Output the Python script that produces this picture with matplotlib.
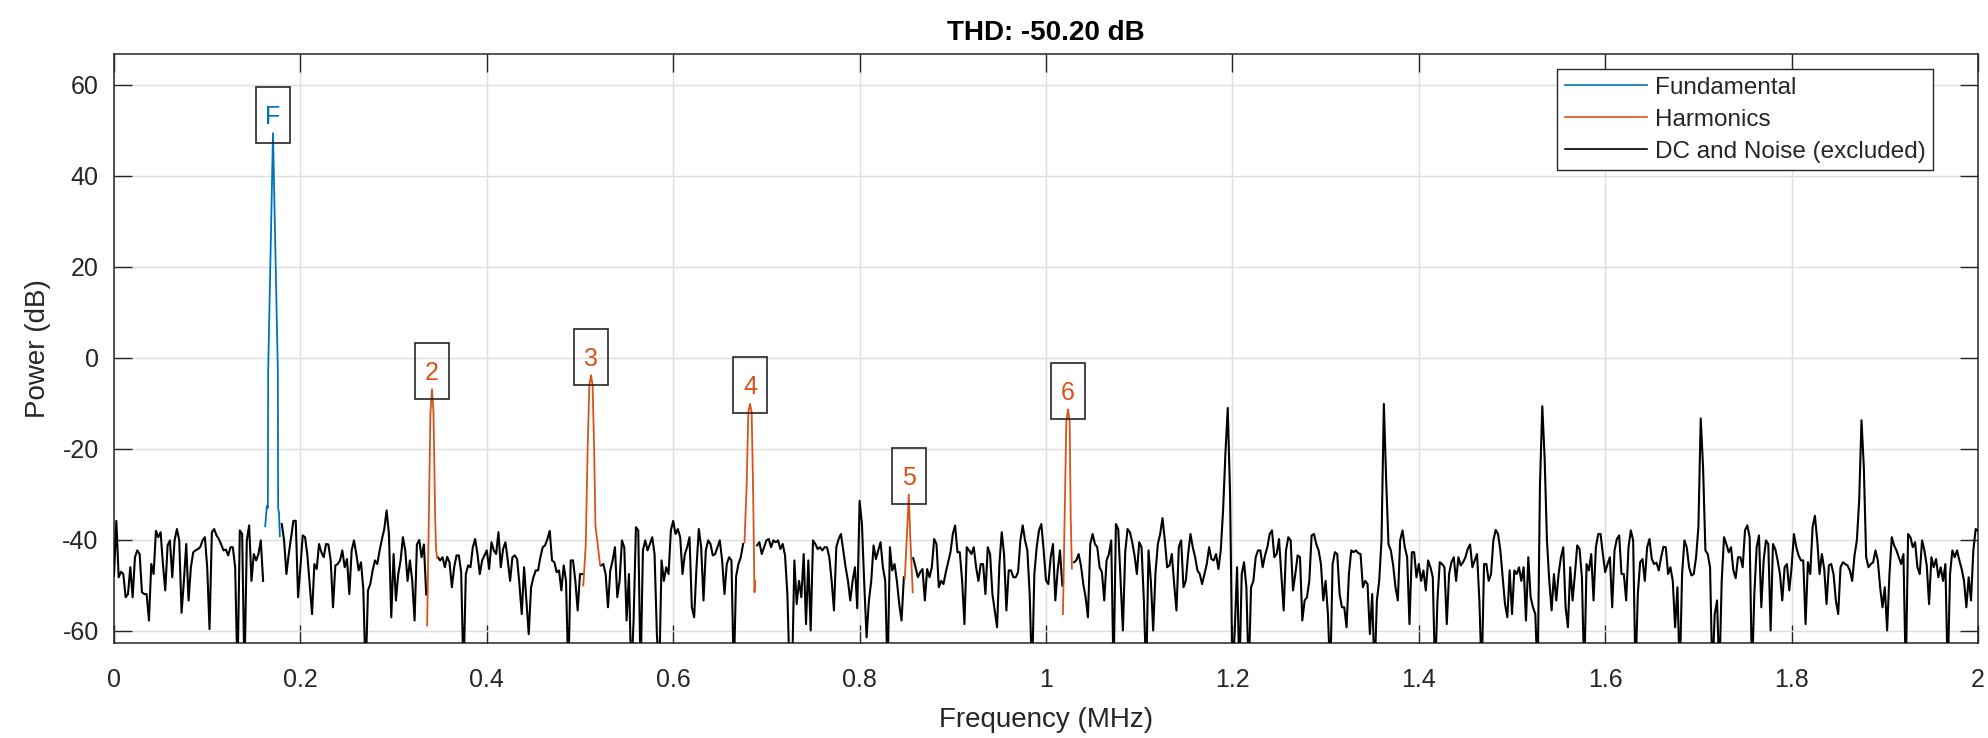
import numpy as np
import matplotlib
matplotlib.use("Agg")
import matplotlib.pyplot as plt
from matplotlib.path import Path

nan = float("nan")

# ---------------- text ----------------
TITLE = "THD: -50.20 dB"
XLABEL = "Frequency (MHz)"
YLABEL = "Power (dB)"
LEGEND_LABELS = ["Fundamental", "Harmonics", "DC and Noise (excluded)"]

X_TICKS = [0, 0.2, 0.4, 0.6, 0.8, 1.0, 1.2, 1.4, 1.6, 1.8, 2.0]
X_TICK_LABELS = ["0", "0.2", "0.4", "0.6", "0.8", "1", "1.2", "1.4", "1.6", "1.8", "2"]
Y_TICKS = [-60, -40, -20, 0, 20, 40, 60]
Y_TICK_LABELS = ["-60", "-40", "-20", "0", "20", "40", "60"]
X_LIMITS = [0, 2]
Y_LIMITS = [-62.65, 66.8]

# ---------------- data ----------------
# black trace (DC and noise, excluded bins), one value every 0.0025 MHz from 0 to 2 MHz
NOISE_START_MHZ = 0.0
NOISE_STEP_MHZ = 0.0025
NOISE_DB = [
    -47.8, -35.8, -48.2, -47, -47.5, -52.6, -51.9, -46, -52.6, -43.8, -42.3, -43.1, -51.5, -51.9, -51.9, -57.7, -45.3, -47.5, -38, -39.4,
    -38.3, -45.3, -51.1, -41.2, -40.1, -48.2, -40.1, -37.6, -40.1, -56, -49, -40.9, -53.3, -46, -42.7, -42.3, -42, -41.6, -40.1, -39.4,
    -46, -59.6, -38.3, -37.6, -39, -39.8, -41, -42.3, -42.1, -43.4, -41.6, -41.6, -46, -70, -37.9, -38.7, -70, -40.1, -36.8, -49,
    -43.1, -44.5, -43.1, -40.1, -49, nan, nan, nan, nan, nan, nan, nan, -36.5, -40.1, -47.5, -43.1, -39.4, -35.8, -35.8, -52.6,
    -46, -39, -39.4, -43.4, -49.7, -56.3, -45.3, -46.4, -40.9, -42.7, -43.8, -40.9, -41, -44.5, -54.8, -45.6, -45.3, -44.5, -42.3, -46,
    -44.2, -51.9, -42.3, -40.1, -43.1, -46.7, -44.9, -50.8, -70, -51.1, -49.7, -46.7, -44.5, -45.3, -42.3, -39.8, -37.6, -33.5, -38.7, -57,
    -43.1, -53.3, -47.5, -44.5, -39.4, -42.3, -49, -44.5, -49, -57.7, -41, -40, -43.8, -41, -52, nan, nan, nan, nan, -43.8,
    -44.5, -43.8, -46, -43.7, -44.9, -50.4, -46, -43.4, -43.4, -47.1, -70, -47.5, -45.6, -46, -41.6, -39.8, -43.1, -47.5, -44.5, -43.4,
    -42.3, -46.4, -40.5, -42.3, -43.1, -38.3, -46, -42, -40.5, -44.5, -49, -43.8, -43.4, -44.2, -49.7, -56.3, -46, -53.3, -60.7, -50.4,
    -48.2, -46.7, -46.7, -43.8, -41.6, -41.2, -39.8, -38, -44.5, -44.9, -47.1, -46.7, -51.1, -45.6, -49, -70, -44.5, -44.5, -49, -55.5,
    -47.5, -47.5, nan, nan, nan, nan, nan, nan, nan, -45.6, -45.3, -47.5, -54.8, -46.7, -44.5, -41.6, -52.6, -49, -40.1, -41.6,
    -57.7, -47.5, -70, -57.7, -37.2, -37.9, -70, -42.3, -40.1, -42.3, -40.9, -39.4, -43.1, -60.7, -70, -44.5, -49, -46, -47.5, -37.9,
    -35.8, -38.7, -37.6, -39.4, -47.5, -43.1, -41.6, -39.4, -54.8, -57, -46, -37.6, -41.6, -53.3, -42.3, -40.1, -40.9, -43.4, -43.1, -41.6,
    -40.1, -44.5, -51.9, -45.3, -43.8, -44.5, -70, -48, -45.3, -43.8, -40.9, nan, nan, nan, nan, nan, -41.2, -40.5, -43.1, -41.6,
    -40.1, -39.8, -41.6, -40.1, -40.5, -40.1, -42, -40.9, -43.4, -51.9, -70, -70, -44.5, -54.1, -49, -52.6, -43.1, -58.5, -44.5, -59.9,
    -40.1, -40.9, -42, -41.6, -42.3, -41.6, -41.6, -43.8, -49, -55.5, -41.6, -39.8, -38.7, -42.3, -46, -49, -53.3, -49, -46, -55,
    -31.4, -36.5, -49.7, -61.4, -53.3, -49, -41.2, -44.2, -42.3, -40.5, -46, -49, -70, -41.6, -46.7, -45.3, -49, -54.1, -57.7, -48.2,
    nan, nan, nan, -44, -46, -48.2, -47.1, -46.4, -53.3, -46.4, -48.2, -46, -39.8, -40.9, -50.4, -49, -49.7, -47.1, -44.9, -42.7,
    -38.7, -36.8, -42.7, -42.7, -49, -58.5, -41.6, -42.3, -43.1, -41.6, -46, -49, -45.3, -45.3, -51.9, -41.6, -43.1, -51.9, -55.5, -59.2,
    -45.3, -38.3, -43.1, -55.5, -46.7, -46.7, -48.2, -48.2, -47.1, -40.1, -36.8, -40.1, -42.3, -51.9, -70, -47.5, -41.6, -37.9, -36.5, -42.3,
    -48.9, -49.7, -43.8, -40.9, -53.3, -46.7, -42.3, -50, nan, nan, nan, nan, -44.9, -44.5, -43.1, -45.6, -49.7, -52.6, -57, -40.9,
    -38.7, -40.9, -41.6, -46, -47.1, -53.3, -44.5, -43.1, -40.1, -70, -36.5, -37.6, -49, -59.9, -42.7, -37.6, -38.3, -40.5, -43.4, -47.5,
    -40.5, -41.6, -53.3, -70, -42.3, -49, -59.9, -47.1, -40.9, -38.7, -35.2, -40.1, -46, -45.6, -43.1, -49.7, -55.5, -41.6, -40.1, -50.4,
    -49, -43.1, -38.7, -41.6, -43.8, -46.7, -47.5, -49.7, -47.5, -45.3, -41.6, -44.2, -44.5, -43.1, -46.4, -42.3, -33.5, -21, -11, -30,
    -70, -60, -46, -70, -47.5, -44.9, -50.4, -70, -50.4, -49, -43.8, -42.3, -42.3, -46, -43.4, -41.6, -38.7, -37.9, -43.8, -43.1,
    -39.8, -47.5, -55.5, -42.3, -39.4, -40.1, -51.1, -47.5, -43.4, -43.8, -57.7, -53.3, -52.6, -49, -39, -38.7, -40.9, -42.3, -45.3, -53.3,
    -49, -56.3, -70, -45.3, -42.7, -43.1, -51.9, -54.8, -54.8, -59.2, -47.5, -42.3, -42.7, -42.3, -42.9, -43.1, -50.4, -49, -49.7, -60.7,
    -51.9, -70, -53.3, -49, -40, -10.1, -27, -41, -42.3, -45.6, -50.4, -53.3, -40.1, -37.9, -41.6, -43.8, -58.5, -42.7, -42.7, -48.2,
    -45.3, -49, -46.7, -51.1, -44.5, -46, -48.2, -70, -53.3, -44.9, -45.3, -46, -58.5, -47.5, -44.9, -43.8, -49, -43.8, -45.6, -44.9,
    -43.8, -42, -41, -46, -44.5, -43.1, -53.3, -70, -45.3, -45.3, -49, -47.5, -40.1, -37.8, -38.7, -42.3, -48.2, -54.1, -57, -46.7,
    -56.3, -46.7, -47.5, -46, -49, -46, -57.7, -43.8, -52.6, -54.8, -56.3, -70, -28, -10.6, -22, -40.1, -49, -55.5, -47.5, -53.3,
    -47.5, -43.8, -41.6, -54.8, -59.2, -46, -53.3, -47.5, -41.2, -42, -48.2, -70, -45.3, -46.7, -43.1, -53.3, -41.6, -38.7, -38.7, -43.1,
    -47.1, -45.3, -43.8, -54.8, -42.3, -39.8, -39, -47.5, -47.5, -53.3, -41.6, -37.9, -40.1, -70, -51.9, -44.9, -44.2, -49, -41.6, -39.8,
    -44.2, -45.3, -45, -46.7, -43.8, -41.5, -41.6, -47.5, -46, -49, -59.2, -50.4, -70, -47.5, -40.1, -41.6, -46, -47.8, -47.5, -43.8,
    -37.2, -13.3, -24, -42.3, -43.1, -46, -70, -56.3, -53.3, -70, -49, -39.4, -40.9, -42.7, -41.6, -46.7, -48.4, -43.8, -43.8, -46,
    -37.9, -36.8, -39.4, -70, -52, -41.6, -39, -54.8, -44.5, -40.1, -40.9, -59.9, -40.9, -42, -44.5, -47.5, -53.3, -46, -45.3, -51.1,
    -46, -38.7, -41.6, -43.4, -44.5, -44.5, -58.5, -44.9, -47.5, -37.2, -34.7, -40.1, -47.5, -43.1, -46.4, -54.1, -45.6, -45.3, -47.5, -53.3,
    -56.3, -46, -44.9, -45.3, -45.6, -46.7, -49, -43.4, -40.1, -31.4, -13.7, -24, -43.8, -46, -45.3, -44.9, -42.3, -44.5, -50.4, -54.8,
    -50.4, -59.9, -47.5, -39.4, -41.2, -42.3, -43.8, -45.3, -43.1, -70, -38.7, -39.4, -41.6, -40.5, -46, -47.5, -40.1, -42.3, -45.6, -54.1,
    -43.8, -46, -44.2, -48.2, -46, -49, -45.3, -70, -47.5, -42.3, -43.8, -42.3, -44.5, -46.4, -49, -54.8, -48.2, -53.3, -42.3, -37.6,
    -38,
]

# fundamental (blue)
FUND_LABEL = "F"
FUND_FREQ = [0.1622, 0.1640, 0.1651, 0.1654, 0.1706, 0.1758, 0.1761, 0.1770, 0.1780]
FUND_DB = [-37, -32.5, -33, -3, 49.4, -3, -33, -34, -39.2]

# harmonics 2..6 (orange)
HARM_LABELS = ["2", "3", "4", "5", "6"]
HARM2_FREQ = [0.3360, 0.3378, 0.3395, 0.3412, 0.3428, 0.3446, 0.3455, 0.3468]
HARM2_DB = [-58.8, -35, -12, -6.9, -12, -35, -42, -44]
HARM3_FREQ = [0.5035, 0.5062, 0.5082, 0.5100, 0.5118, 0.5135, 0.5152, 0.5166, 0.5190, 0.5215]
HARM3_DB = [-50, -41, -20, -6, -3.8, -6, -20, -37, -41, -45.5]
HARM4_FREQ = [0.6765, 0.6788, 0.6806, 0.6824, 0.6842, 0.6858, 0.6872, 0.6880]
HARM4_DB = [-40.5, -28, -12, -10.1, -12, -30, -51.5, -49]
HARM5_FREQ = [0.8485, 0.8510, 0.8528, 0.8545, 0.8570]
HARM5_DB = [-48.5, -38, -30, -40, -51.5]
HARM6_FREQ = [1.0182, 1.0200, 1.0218, 1.0236, 1.0254, 1.0265, 1.0278]
HARM6_DB = [-56.3, -35, -14, -11.3, -14, -35, -46.3]

HARM_FREQS = [HARM2_FREQ, HARM3_FREQ, HARM4_FREQ, HARM5_FREQ, HARM6_FREQ]
HARM_DBS = [HARM2_DB, HARM3_DB, HARM4_DB, HARM5_DB, HARM6_DB]

# ---------------- style ----------------
C_FUND = "#0072BD"
C_HARM = "#D95319"
C_NOISE = "#000000"
C_AX = "#262626"
FONT = ["Liberation Sans", "Arial", "DejaVu Sans"]

plt.rcParams["font.family"] = FONT
plt.rcParams["axes.unicode_minus"] = False

W, H = 1988, 738
fig = plt.figure(figsize=(W / 100, H / 100), dpi=100)
fig.patch.set_facecolor("white")
ax = fig.add_axes([114 / W, 1 - 643 / H, (1978 - 114) / W, (643 - 54) / H])

noise_db = np.array(NOISE_DB, dtype=float)
noise_f = NOISE_START_MHZ + NOISE_STEP_MHZ * np.arange(len(noise_db))

ln_noise, = ax.plot(noise_f, noise_db, color=C_NOISE, lw=1.5, zorder=3)
ln_harm = None
for hf, hd in zip(HARM_FREQS, HARM_DBS):
    ln_harm, = ax.plot(hf, hd, color=C_HARM, lw=1.3, zorder=4)
ln_fund, = ax.plot(FUND_FREQ, FUND_DB, color=C_FUND, lw=1.3, zorder=5)


def label_box(x0, y0, width, height, mutation_size):
    cx = x0 + 0.5 * width
    cy = y0 + 0.5 * height + 0.08 * mutation_size
    hw = 0.68 * mutation_size
    hh = 1.12 * mutation_size
    return Path([(cx - hw, cy - hh), (cx + hw, cy - hh), (cx + hw, cy + hh),
                 (cx - hw, cy + hh), (cx - hw, cy - hh)],
                [Path.MOVETO, Path.LINETO, Path.LINETO, Path.LINETO, Path.CLOSEPOLY])


def add_label(text, freqs, dbs, color):
    i = int(np.argmax(dbs))
    ax.annotate(text, xy=(freqs[i], dbs[i]), xytext=(0, 11.9),
                textcoords="offset points", ha="center", va="center",
                fontsize=18, color=color, zorder=6, annotation_clip=False,
                bbox=dict(boxstyle=label_box, facecolor="none",
                          edgecolor=C_AX, linewidth=1.2))


add_label(FUND_LABEL, FUND_FREQ, FUND_DB, C_FUND)
for lab, hf, hd in zip(HARM_LABELS, HARM_FREQS, HARM_DBS):
    add_label(lab, hf, hd, C_HARM)

ax.set_xlim(X_LIMITS)
ax.set_ylim(Y_LIMITS)
ax.set_xticks(X_TICKS)
ax.set_xticklabels(X_TICK_LABELS)
ax.set_yticks(Y_TICKS)
ax.set_yticklabels(Y_TICK_LABELS)
ax.grid(True, color="#dedede", lw=1.0)
ax.set_axisbelow(True)
for s in ax.spines.values():
    s.set_color(C_AX)
    s.set_linewidth(1.1)
ax.tick_params(axis="both", direction="in", length=13, width=1.0, colors=C_AX,
               labelsize=18, top=True, right=True)
ax.tick_params(axis="x", pad=18)
ax.tick_params(axis="y", pad=11)

ax.set_title(TITLE, fontsize=20, fontweight="bold", color="black", pad=10)
ax.set_xlabel(XLABEL, fontsize=20, color=C_AX, labelpad=10.6)
ax.set_ylabel(YLABEL, fontsize=20, color=C_AX)
ax.yaxis.set_label_coords(-0.0338, 0.5)

leg = ax.legend([ln_fund, ln_harm, ln_noise], LEGEND_LABELS,
                loc="upper right", bbox_to_anchor=(1933 / W, 1 - 69 / H),
                bbox_transform=fig.transFigure, borderaxespad=0,
                fontsize=17.5, handlelength=3.37, handletextpad=0.33,
                borderpad=0.31, labelspacing=0.41, fancybox=False,
                framealpha=1, edgecolor=C_AX, facecolor="white")
leg.get_frame().set_linewidth(1.0)
for t in leg.get_texts():
    t.set_color(C_AX)
for l in leg.get_lines():
    l.set_linewidth(1.2)

fig.savefig("out.png", dpi=100, facecolor="white")
